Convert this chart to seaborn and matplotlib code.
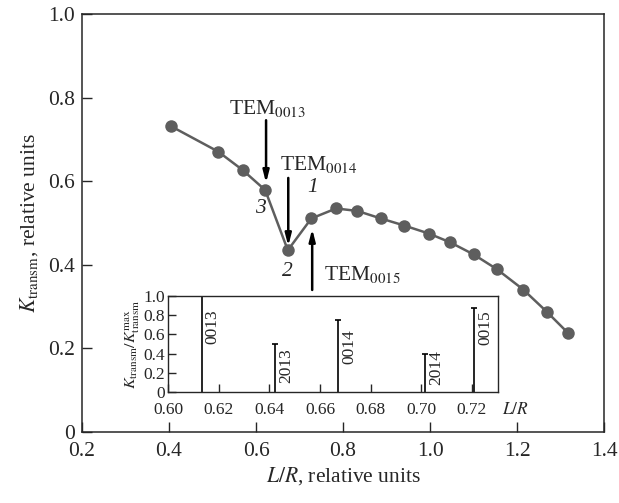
import numpy as np
import pandas as pd
import matplotlib
matplotlib.use("Agg")
import matplotlib.pyplot as plt
import seaborn as sns

# main curve
lr = [0.404, 0.513, 0.569, 0.621, 0.673, 0.727, 0.784, 0.833, 0.887, 0.941,
      0.997, 1.046, 1.100, 1.153, 1.214, 1.268, 1.318]
k_transm = [0.732, 0.671, 0.627, 0.579, 0.435, 0.511, 0.535, 0.529, 0.511, 0.494,
            0.475, 0.454, 0.425, 0.390, 0.341, 0.288, 0.236]

# inset: mode positions and relative transmission
mode_names = ["0013", "2013", "0014", "2014", "0015"]
mode_lr = [0.6133, 0.6422, 0.6672, 0.7016, 0.7210]
mode_k = [1.0, 0.5, 0.75, 0.4, 0.88]
mode_label_y = [0.68, 0.27, 0.47, 0.25, 0.67]

sns.set_style("ticks")
plt.rcParams["font.family"] = ["Liberation Serif", "DejaVu Serif"]
plt.rcParams["mathtext.fontset"] = "stix"

gray = "#5e5e5e"
fs = 15.5
fig = plt.figure(figsize=(6.19, 5.03), dpi=100)
ax = fig.add_axes([0.1325, 0.141, 0.8435, 0.831])

df = pd.DataFrame({"lr": lr, "k": k_transm})
sns.lineplot(data=df, x="lr", y="k", ax=ax, color=gray, lw=1.8,
             marker="o", markersize=9, markeredgewidth=0, markerfacecolor=gray)

ax.set_xlim(0.2, 1.4)
ax.set_ylim(0, 1.0)
ax.set_xticks([0.2, 0.4, 0.6, 0.8, 1.0, 1.2, 1.4])
ax.set_yticks([0, 0.2, 0.4, 0.6, 0.8, 1.0])
ax.set_yticklabels(["0", "0.2", "0.4", "0.6", "0.8", "1.0"])
ax.tick_params(direction="in", length=7, width=1, labelsize=fs, pad=5)
ax.tick_params(axis="x", pad=7)
for s in ax.spines.values():
    s.set_linewidth(1.1)
ax.set_xlabel(r"$L/R$, relative units", fontsize=fs, labelpad=3)
ax.set_ylabel(r"$K_{\rm transm}$, relative units", fontsize=fs, labelpad=6)

arrow = dict(arrowstyle="-|>,head_length=0.7,head_width=0.18", color="black", lw=1.8,
             shrinkA=0, shrinkB=0)
ax.annotate("", xy=(0.623, 0.596), xytext=(0.623, 0.746), arrowprops=arrow)
ax.annotate("", xy=(0.674, 0.445), xytext=(0.674, 0.608), arrowprops=arrow)
ax.annotate("", xy=(0.729, 0.486), xytext=(0.729, 0.340), arrowprops=arrow)
ax.text(0.626, 0.748, r"TEM$_{0013}$", fontsize=fs, ha="center", va="bottom")
ax.text(0.654, 0.614, r"TEM$_{0014}$", fontsize=fs, ha="left", va="bottom")
ax.text(0.755, 0.378, r"TEM$_{0015}$", fontsize=fs, ha="left", va="center")
ax.text(0.609, 0.536, "3", fontsize=fs, style="italic", ha="center", va="center")
ax.text(0.671, 0.383, "2", fontsize=fs, style="italic", ha="center", va="center")
ax.text(0.731, 0.584, "1", fontsize=fs, style="italic", ha="center", va="center")

# inset
ins = fig.add_axes([0.2714, 0.2207, 0.5331, 0.1908])
ins.vlines(mode_lr, 0, mode_k, color="black", lw=1.2)
ins.scatter(mode_lr, mode_k, marker="_", s=14, color="black", linewidths=1.2)
for name, x, y in zip(mode_names, mode_lr, mode_label_y):
    ins.text(x + 0.0012, y, name, rotation=90, fontsize=12.5, ha="left", va="center")
ins.set_xlim(0.60, 0.7303)
ins.set_ylim(0, 1.0)
ins.set_xticks([0.60, 0.62, 0.64, 0.66, 0.68, 0.70, 0.72])
ins.set_xticklabels(["0.60", "0.62", "0.64", "0.66", "0.68", "0.70", "0.72"])
ins.set_yticks([0, 0.2, 0.4, 0.6, 0.8, 1.0])
ins.set_yticklabels(["0", "0.2", "0.4", "0.6", "0.8", "1.0"])
ins.tick_params(direction="in", length=6, width=1, labelsize=12.5, pad=2)
ins.tick_params(axis="x", pad=7)
for s in ins.spines.values():
    s.set_linewidth(1.0)
ins.set_ylabel(r"$K_{\rm transm}/K^{\rm max}_{\rm transm}$", fontsize=11.5, labelpad=1)
ins.text(1.012, -0.1, r"$L/R$", transform=ins.transAxes, fontsize=12.5,
         ha="left", va="top")

fig.savefig("out.png", dpi=100)
